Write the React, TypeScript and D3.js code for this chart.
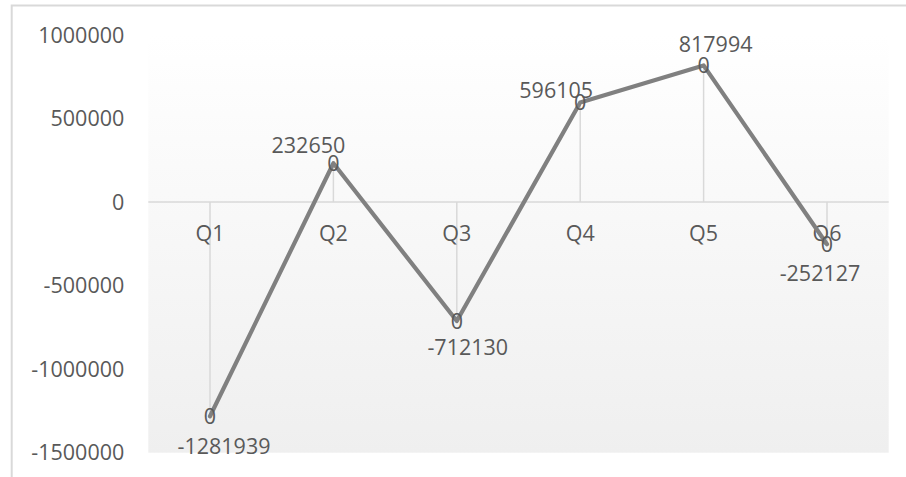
import React from "react";
import * as d3 from "d3";

const categories = ["Q1", "Q2", "Q3", "Q4", "Q5", "Q6"];
const values = [-1281939, 232650, -712130, 596105, 817994, -252127];
const yTicks = [1000000, 500000, 0, -500000, -1000000, -1500000];

// label placement (layout, relative to each point)
const labelDx = [14, -25, 11, -24, 12, -7];
const labelDy = [38, -10, 34, -4, -13, 37];

const W = 906;
const H = 477;
const plot = { left: 148.3, right: 888.7, top: 35, bottom: 452.7 };
const FONT = "'Open Sans', 'Noto Sans', sans-serif";
const TEXT = "#595959";

export default function App() {
  const x = d3
    .scaleBand<string>()
    .domain(categories)
    .range([plot.left, plot.right])
    .paddingInner(0)
    .paddingOuter(0);
  const cx = (c: string) => (x(c) as number) + x.bandwidth() / 2;
  const y = d3.scaleLinear().domain([-1500000, 1000000]).range([plot.bottom, plot.top]);

  const pts: [number, number][] = values.map((v, i) => [cx(categories[i]), y(v)]);
  const line = d3.line<[number, number]>().x((d) => d[0]).y((d) => d[1]);

  return (
    <svg
      width={W}
      height={H}
      style={{ position: "absolute", left: 0, top: 0, background: "#fff" }}
      fontFamily={FONT}
    >
      <defs>
        <linearGradient id="bg" x1="0" y1="0" x2="0" y2="1">
          <stop offset="0" stopColor="#ffffff" />
          <stop offset="1" stopColor="#efefef" />
        </linearGradient>
      </defs>
      <rect x={11.7} y={5.5} width={1200} height={1200} fill="none" stroke="#d9d9d9" strokeWidth={2} />
      <rect
        x={plot.left}
        y={plot.top}
        width={plot.right - plot.left}
        height={plot.bottom - plot.top}
        fill="url(#bg)"
      />
      {yTicks.map((t) => (
        <text
          key={t}
          x={124.3}
          y={y(t)}
          dy="0.36em"
          textAnchor="end"
          fontSize={21.5}
          fill={TEXT}
        >
          {t}
        </text>
      ))}
      <line x1={plot.left} x2={plot.right} y1={y(0)} y2={y(0)} stroke="#d9d9d9" strokeWidth={1.5} />
      {pts.map(([px, py], i) => (
        <line key={i} x1={px} x2={px} y1={y(0)} y2={py} stroke="#d9d9d9" strokeWidth={1.5} />
      ))}
      {categories.map((c) => (
        <text key={c} x={cx(c)} y={240.7} textAnchor="middle" fontSize={21.5} fill={TEXT}>
          {c}
        </text>
      ))}
      <path
        d={line(pts) || ""}
        fill="none"
        stroke="#808080"
        strokeWidth={4.2}
        strokeLinejoin="round"
        strokeLinecap="round"
      />
      {pts.map(([px, py], i) => (
        <text
          key={"m" + i}
          x={px}
          y={py}
          dy="0.36em"
          textAnchor="middle"
          fontSize={21.5}
          fill="#5a5a5a"
        >
          0
        </text>
      ))}
      {pts.map(([px, py], i) => (
        <text
          key={"l" + i}
          x={px + labelDx[i]}
          y={py + labelDy[i]}
          textAnchor="middle"
          fontSize={21.5}
          fill={TEXT}
        >
          {values[i]}
        </text>
      ))}
    </svg>
  );
}
